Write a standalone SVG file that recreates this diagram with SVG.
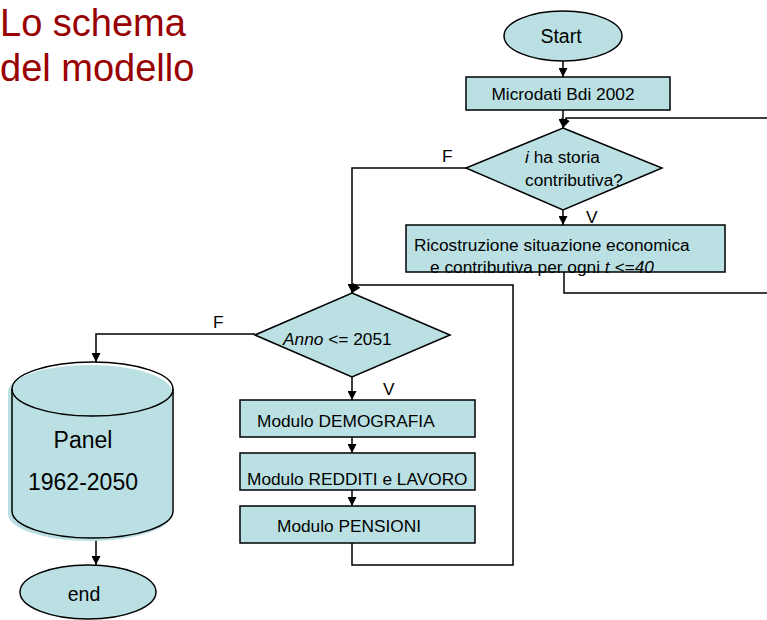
<svg xmlns="http://www.w3.org/2000/svg" width="767" height="620" viewBox="0 0 767 620">
<defs>
<marker id="ah" viewBox="0 0 10 10" refX="10" refY="5" markerWidth="9" markerHeight="9" markerUnits="userSpaceOnUse" orient="auto">
<path d="M0,0 L10,5 L0,10 Z" fill="#000"/>
</marker>
<style>
.shape{fill:#BBE0E3;stroke:#000;stroke-width:1.5}
.t{font-family:"Liberation Sans",Arial,sans-serif;font-size:17.3px;fill:#000}
.big{font-size:23px}
.mid{font-size:19.5px}
.c{fill:none;stroke:#000;stroke-width:1.5}
.a{marker-end:url(#ah)}
.title{font-family:"Liberation Sans",Arial,sans-serif;font-size:38px;fill:#990000}
</style>
</defs>
<rect width="767" height="620" fill="#fff"/>
<g id="title">
<text class="title" x="0" y="36">Lo schema</text>
<text class="title" x="0" y="81">del modello</text>
</g>
<g id="connectors">
<path class="c a" d="M563,61 V77"/>
<path class="c a" d="M563,110 V128"/>
<path class="c a" d="M770,118 H566 L563,128"/>
<path class="c a" d="M466,168 H352 V293"/>
<path class="c a" d="M563,210 V225"/>
<path class="c" d="M564,272 V293 H770"/>
<path class="c a" d="M352,543 V565 H513 V285 H357 L352,293"/>
<path class="c a" d="M255,334 H96 V362"/>
<path class="c a" d="M352,377 V400"/>
<path class="c a" d="M352,437 V453"/>
<path class="c a" d="M352,490 V506"/>
<path class="c a" d="M96,538 V565"/>
<text class="t" x="442" y="162">F</text>
<text class="t" x="586" y="223">V</text>
<text class="t" x="213" y="328">F</text>
<text class="t" x="383" y="395">V</text>
</g>
<g id="start">
<ellipse class="shape" cx="563" cy="36" rx="59" ry="25"/>
<text class="t mid" x="561" y="43" text-anchor="middle">Start</text>
</g>
<g id="microdati">
<rect class="shape" x="466" y="77" width="204" height="33"/>
<text class="t" x="563" y="100" text-anchor="middle">Microdati Bdi 2002</text>
</g>
<g id="storia">
<polygon class="shape" points="563,128 662,168 563,210 466,168"/>
<text class="t" x="525" y="163"><tspan font-style="italic">i</tspan> ha storia</text>
<text class="t" x="525" y="186">contributiva?</text>
</g>
<g id="ricostruzione">
<rect class="shape" x="406" y="225" width="319" height="47"/>
<text class="t" x="414" y="251">Ricostruzione situazione economica</text>
<text class="t" x="430" y="273">e contributiva per ogni <tspan font-style="italic">t  &lt;=40</tspan></text>
</g>
<g id="anno">
<polygon class="shape" points="352,293 450,335 352,377 255,335"/>
<text class="t" x="283" y="345"><tspan font-style="italic">Anno</tspan> &lt;= 2051</text>
</g>
<g id="demografia">
<rect class="shape" x="240" y="400" width="235" height="37"/>
<text class="t" x="257" y="427">Modulo DEMOGRAFIA</text>
</g>
<g id="redditi">
<rect class="shape" x="240" y="453" width="235" height="37"/>
<text class="t" x="247" y="485">Modulo REDDITI e LAVORO</text>
</g>
<g id="pensioni">
<rect class="shape" x="240" y="506" width="235" height="37"/>
<text class="t" x="277" y="532">Modulo PENSIONI</text>
</g>
<g id="panel">
<path d="M8,392 A82,27 0 0 1 172,392 V514 A82,27 0 0 1 8,514 Z" fill="#BBE0E3"/>
<path class="c" d="M12,389 A80.5,27 0 0 1 173,389 V511 A80.5,27 0 0 1 12,511 Z"/>
<path class="c" d="M12,389 A80.5,27 0 0 0 173,389"/>
<text class="t big" x="83" y="448" text-anchor="middle">Panel</text>
<text class="t big" x="83" y="490" text-anchor="middle">1962-2050</text>
</g>
<g id="end">
<ellipse class="shape" cx="88" cy="592" rx="68" ry="27"/>
<text class="t mid" x="84" y="601" text-anchor="middle">end</text>
</g>
</svg>
